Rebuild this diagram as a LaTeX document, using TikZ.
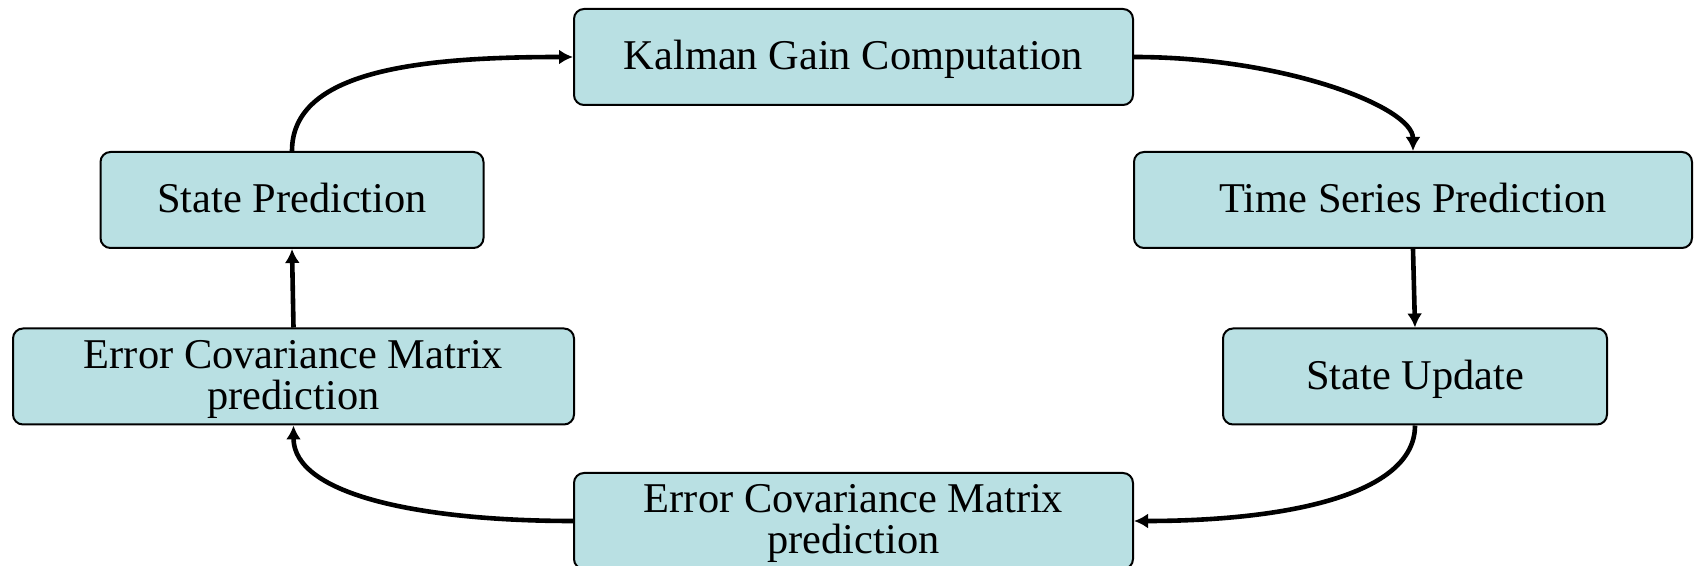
\documentclass[tikz,border=0pt]{standalone}
\usepackage{fontspec}
\setmainfont{Liberation Serif}
\usetikzlibrary{arrows.meta}
\definecolor{boxfill}{RGB}{185,224,227}

\begin{document}
\begin{tikzpicture}[x=0.5pt,y=-0.5pt,
  box/.style={rectangle,rounded corners=5pt,draw,line width=1pt,fill=boxfill,
    minimum height=48pt,inner sep=0pt,align=center,text depth=2pt,
    font=\fontsize{21.2}{20.5}\selectfont},
  flow/.style={line width=2.3pt,-{Latex[length=7pt,width=7.5pt]}}]
\useasboundingbox (0,0) rectangle (1694,566);

\node [box,minimum width=279.5pt] (kalman) at (853.5,57) {Kalman Gain Computation};
\node [box,minimum width=191.5pt] (statepred) at (292,200) {State Prediction};
\node [box,minimum width=279pt] (series) at (1413,200) {Time Series Prediction};
\node [box,minimum width=280.5pt] (errleft) at (293.5,376.5) {Error Covariance Matrix\\prediction};
\node [box,minimum width=192pt] (update) at (1415,376.5) {State Update};
\node [box,minimum width=279.5pt] (errbottom) at (853.5,521) {Error Covariance Matrix\\prediction};

\draw [flow] (statepred.north) .. controls +(90:40pt) and +(180:78pt) .. (kalman.west);
\draw [flow] (kalman.east) .. controls +(0:75pt) and +(90:22pt) .. (series.north);
\draw [flow] (series.south) -- (update.north);
\draw [flow] (update.south) .. controls +(-90:35pt) and +(0:75pt) .. (errbottom.east);
\draw [flow] (errbottom.west) .. controls +(180:75pt) and +(-90:35pt) .. (errleft.south);
\draw [flow] (errleft.north) -- (statepred.south);
\end{tikzpicture}
\end{document}
